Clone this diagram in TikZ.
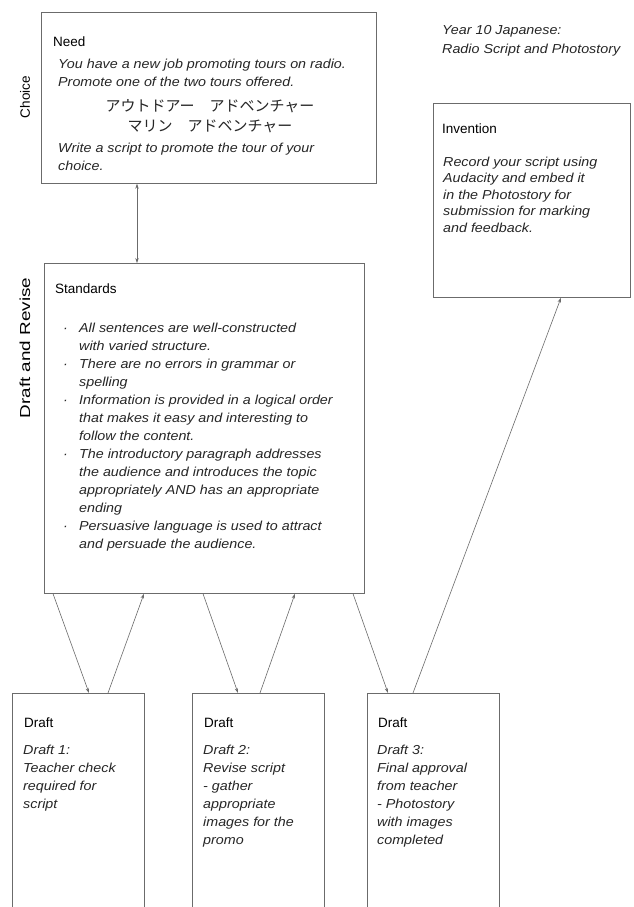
\documentclass[tikz,border=0pt]{standalone}
\usepackage{fontspec}
\setmainfont{Liberation Sans}
\newfontfamily\hand{Liberation Sans}[FakeStretch=1.1]
\newfontfamily\widesans{Liberation Sans}[FakeStretch=1.3]
\newfontfamily\jpfont{Noto Sans CJK JP}
\usetikzlibrary{arrows.meta}
\definecolor{boxline}{gray}{0.42}
\definecolor{inkgray}{gray}{0.15}

\begin{document}
\begin{tikzpicture}[x=1pt,y=-1pt,
  box/.style={draw=boxline, line width=0.7pt, fill=white, rectangle,
              anchor=north west, inner sep=0pt},
  head/.style={font=\fontsize{13.5}{16}\selectfont, anchor=base west,
               inner sep=0pt, text=black},
  body/.style={font=\hand\itshape\fontsize{13}{18}\selectfont,
               anchor=base west, inner sep=0pt, text=inkgray},
  kana/.style={font=\jpfont\fontsize{15}{18}\selectfont, anchor=base,
               inner sep=0pt, text=black!85},
  link/.style={draw=boxline, line width=0.6pt,
               -{Stealth[length=5pt,width=3.4pt]}},
  dlink/.style={link, {Stealth[length=5pt,width=3.4pt]}-{Stealth[length=5pt,width=3.4pt]}},
]
\useasboundingbox (0,0) rectangle (634,907);
\clip (0,0) rectangle (634,907);
\fill[white] (0,0) rectangle (634,907);

% ---- boxes ----
\node[box, minimum width=335pt, minimum height=171pt] (need) at (41,12) {};
\node[box, minimum width=320pt, minimum height=330pt] (std) at (44,263) {};
\node[box, minimum width=197pt, minimum height=194pt] (inv) at (433,103) {};
\node[box, minimum width=132pt, minimum height=225pt] (d1) at (12,693) {};
\node[box, minimum width=132pt, minimum height=225pt] (d2) at (192,693) {};
\node[box, minimum width=132pt, minimum height=225pt] (d3) at (367,693) {};

% ---- phase labels ----
\node[head, anchor=center, rotate=90] (choice) at (25,97) {Choice};
\node[head, anchor=center, rotate=90, font=\widesans\fontsize{14.5}{16}\selectfont]
  (drafrev) at (25,348) {Draft and Revise};

% ---- title ----
\node[body] (title1) at (442,35) {Year 10 Japanese:};
\node[body] (title2) at (442,53) {Radio Script and Photostory};

% ---- Need ----
\node[head] (needh) at (53,47) {Need};
\node[body] (need1) at (58,68) {You have a new job promoting tours on radio.};
\node[body] (need2) at (58,86) {Promote one of the two tours offered.};
\node[kana] (jp1) at (210,111) {アウトドアー　アドベンチャー};
\node[kana] (jp2) at (210,131) {マリン　アドベンチャー};
\node[body] (need3) at (58,152) {Write a script to promote the tour of your};
\node[body] (need4) at (58,170) {choice.};

% ---- Invention ----
\node[head] (invh) at (442,133) {Invention};
\foreach [count=\k] \ln in {Record your script using, Audacity and embed it,
    in the Photostory for, submission for marking, and feedback.}
  \node[body] (inv\k) at (443,{166+16.5*(\k-1)}) {\ln};

% ---- Standards ----
\node[head] (stdh) at (55,293) {Standards};
\foreach [count=\k] \ln in {All sentences are well-constructed,
    with varied structure.,
    There are no errors in grammar or,
    spelling,
    Information is provided in a logical order,
    that makes it easy and interesting to,
    follow the content.,
    The introductory paragraph addresses,
    the audience and introduces the topic,
    appropriately AND has an appropriate,
    ending,
    Persuasive language is used to attract,
    and persuade the audience.}
  \node[body] (std\k) at (79,{332+18*(\k-1)}) {\ln};
\foreach \k in {1,3,5,8,12}
  \node[body] (bul\k) at (63,{332+18*(\k-1)}) {·};

% ---- Drafts ----
\node[head] (d1h) at (24,727) {Draft};
\node[head] (d2h) at (204,727) {Draft};
\node[head] (d3h) at (378,727) {Draft};
\foreach [count=\k] \ln in {Draft 1:, Teacher check, required for, script}
  \node[body] (d1t\k) at (23,{754+18*(\k-1)}) {\ln};
\foreach [count=\k] \ln in {Draft 2:, Revise script, - gather, appropriate,
    images for the, promo}
  \node[body] (d2t\k) at (203,{754+18*(\k-1)}) {\ln};
\foreach [count=\k] \ln in {Draft 3:, Final approval, from teacher,
    - Photostory, with images, completed}
  \node[body] (d3t\k) at (377,{754+18*(\k-1)}) {\ln};

% ---- connectors ----
\draw[dlink] ([xshift=96pt]need.south west) -- ([xshift=93pt]std.north west);
\draw[link] ([xshift=9pt]std.south west) -- ([xshift=77pt]d1.north west);
\draw[link] ([xshift=96pt]d1.north west) -- ([xshift=100pt]std.south west);
\draw[link] ([xshift=159pt]std.south west) -- ([xshift=46pt]d2.north west);
\draw[link] ([xshift=68pt]d2.north west) -- ([xshift=251pt]std.south west);
\draw[link] ([xshift=309pt]std.south west) -- ([xshift=21pt]d3.north west);
\draw[link] ([xshift=46pt]d3.north west) -- ([xshift=128pt]inv.south west);
\end{tikzpicture}
\end{document}
